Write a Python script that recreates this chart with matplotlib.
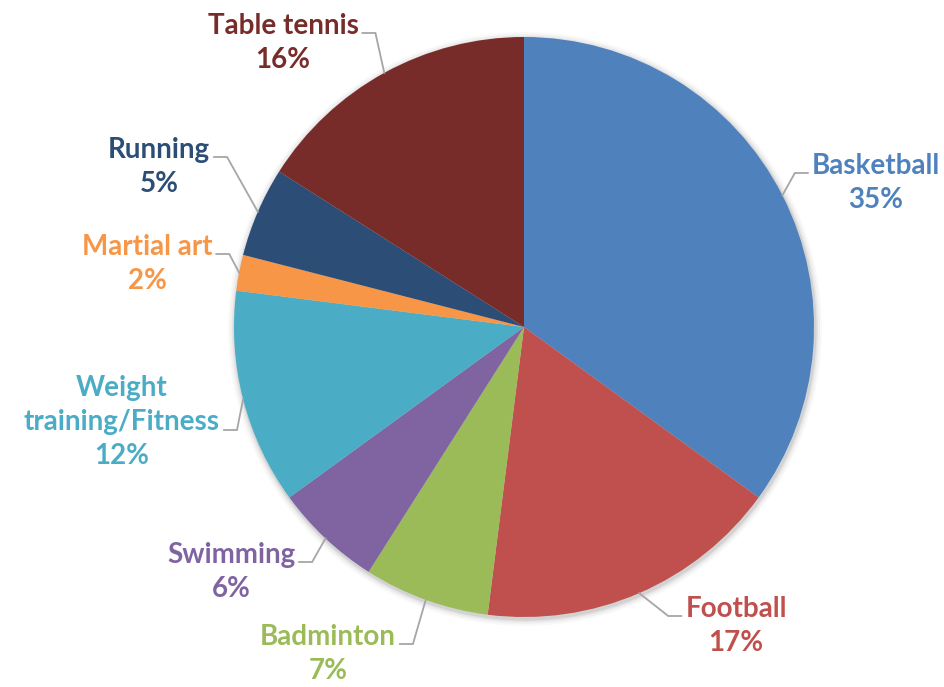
import matplotlib
matplotlib.use("Agg")
import matplotlib.pyplot as plt
import numpy as np
from matplotlib.patches import Circle

categories = ["Basketball", "Football", "Badminton", "Swimming",
              "Weight\ntraining/Fitness", "Martial art", "Running", "Table tennis"]
values = [35, 17, 7, 6, 12, 2, 5, 16]
colors = ["#4F81BD", "#C0504D", "#9BBB59", "#8064A2",
          "#4BACC6", "#F79646", "#2C4D75", "#772C2A"]

# layout (pixel coordinates, y from top)
W, H = 944, 687
cx, cy, R = 524, 327, 290
label_pos = [(876, 183), (736, 626), (328, 654), (231, 572),
             (122, 422), (147, 264), (159, 167), (283, 43)]
label_side = ["right", "right", "left", "left", "left", "left", "left", "left"]

fig = plt.figure(figsize=(W / 100, H / 100), dpi=100)
ax = fig.add_axes([0, 0, 1, 1])
ax.set_xlim(0, W)
ax.set_ylim(0, H)
ax.axis("off")

def Y(y):
    return H - y

# soft shadow
for r, a in [(R + 7, 0.025), (R + 5, 0.035), (R + 3, 0.05), (R + 1.5, 0.07)]:
    ax.add_patch(Circle((cx + 1, Y(cy) - 2), r, color="black", alpha=a, lw=0, zorder=0))

wedges, _ = ax.pie(values, colors=colors, startangle=90, counterclock=False,
                   center=(cx, Y(cy)), radius=R, frame=False,
                   wedgeprops=dict(linewidth=0))
ax.set_xlim(0, W)
ax.set_ylim(0, H)
ax.set_aspect("equal")

font = "Lato"
texts = []
for cat, v, col, (lx, ly) in zip(categories, values, colors, label_pos):
    t = ax.text(lx, Y(ly), f"{cat}\n{v}%", ha="center", va="center",
                color=col, fontsize=20, fontweight="bold", family=font,
                linespacing=1.4, zorder=5)
    texts.append(t)

fig.canvas.draw()
renderer = fig.canvas.get_renderer()
inv = ax.transData.inverted()

total = sum(values)
cum = 0
for w, v, t, side, (lx, ly) in zip(wedges, values, texts, label_side, label_pos):
    mid = 90 - 360 * (cum + v / 2) / total
    cum += v
    ex = cx + R * np.cos(np.radians(mid))
    ey = Y(cy) + R * np.sin(np.radians(mid))
    bb = t.get_window_extent(renderer)
    (x0, y0), (x1, y1) = inv.transform([(bb.x0, bb.y0), (bb.x1, bb.y1)])
    n_lines = t.get_text().count("\n") + 1
    ay = (y0 + y1) / 2 + (10 if n_lines == 2 else 0) + (-8 if n_lines == 3 else 0)
    if side == "right":
        axp = x0 - 4
        elbow = axp - 13
    else:
        axp = x1 + 4
        elbow = axp + 13
    ax.plot([axp, elbow, ex], [ay, ay, ey], color="#A6A6A6", lw=1.3,
            solid_joinstyle="miter", zorder=4)

fig.savefig("out.png", dpi=100, facecolor="white")
